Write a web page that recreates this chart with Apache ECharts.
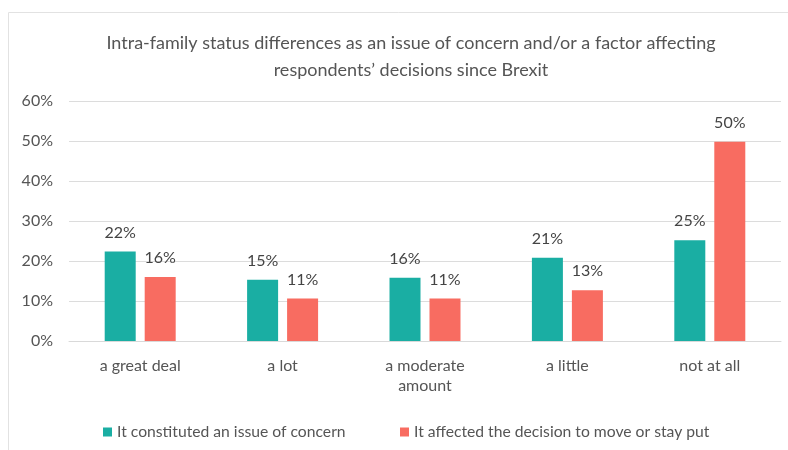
<!DOCTYPE html>
<html><head><meta charset="utf-8">
<script src="https://cdn.jsdelivr.net/npm/echarts@6/dist/echarts.min.js"></script>
<style>html,body{margin:0;padding:0;background:#fff}#c{width:788px;height:450px}</style>
</head><body><div id="c"></div>
<script>
var categories = ['a great deal', 'a lot', 'a moderate\namount', 'a little', 'not at all'];
var concern = [22.4, 15.3, 15.8, 20.8, 25.2];
var affected = [16.0, 10.6, 10.6, 12.7, 49.8];
var seriesNames = ['It constituted an issue of concern', 'It affected the decision to move or stay put'];
var titleText = 'Intra-family status differences as an issue of concern and/or a factor affecting\nrespondents\u2019 decisions since Brexit';

var FONT = 'Lato';
var chart = echarts.init(document.getElementById('c'), null, {renderer: 'canvas'});
var lbl = {show: true, position: 'top', distance: 11, color: '#444', fontSize: 16, fontFamily: FONT,
  formatter: function (p) { return Math.round(p.value) + '%'; }};
var legendBase = {top: 419, itemWidth: 9, itemHeight: 9, icon: 'rect',
  textStyle: {fontFamily: FONT, fontSize: 15.7, color: '#555'}};
chart.setOption({
  animation: false,
  backgroundColor: '#fff',
  graphic: [{type: 'rect', shape: {x: 8.5, y: 12.5, width: 800, height: 460},
    style: {fill: 'none', stroke: '#e2e2e2', lineWidth: 1}, silent: true, z: -1}],
  title: {text: titleText, left: 406, textAlign: 'center', top: 25,
    textStyle: {fontFamily: FONT, fontSize: 18, fontWeight: 'normal', color: '#555', lineHeight: 27}},
  legend: [
    Object.assign({left: 98, data: [seriesNames[0]]}, legendBase),
    Object.assign({left: 395, data: [seriesNames[1]]}, legendBase)
  ],
  grid: {left: 69, right: 7, top: 101, bottom: 109, containLabel: false},
  xAxis: {type: 'category', data: categories,
    axisLine: {lineStyle: {color: '#d9d9d9'}}, axisTick: {show: false},
    axisLabel: {fontFamily: FONT, fontSize: 16, color: '#555', margin: 15, lineHeight: 20}},
  yAxis: {type: 'value', min: 0, max: 60, interval: 10,
    axisLabel: {formatter: '{value}%', fontFamily: FONT, fontSize: 16, color: '#555', margin: 16},
    splitLine: {lineStyle: {color: '#dcdcdc'}}, axisLine: {show: false}, axisTick: {show: false}},
  series: [
    {name: seriesNames[0], type: 'bar', data: concern, barWidth: 31, barGap: '29%',
      itemStyle: {color: '#1aaea3'}, label: lbl},
    {name: seriesNames[1], type: 'bar', data: affected, barWidth: 31,
      itemStyle: {color: '#f86c61'}, label: lbl}
  ]
});
</script></body></html>
